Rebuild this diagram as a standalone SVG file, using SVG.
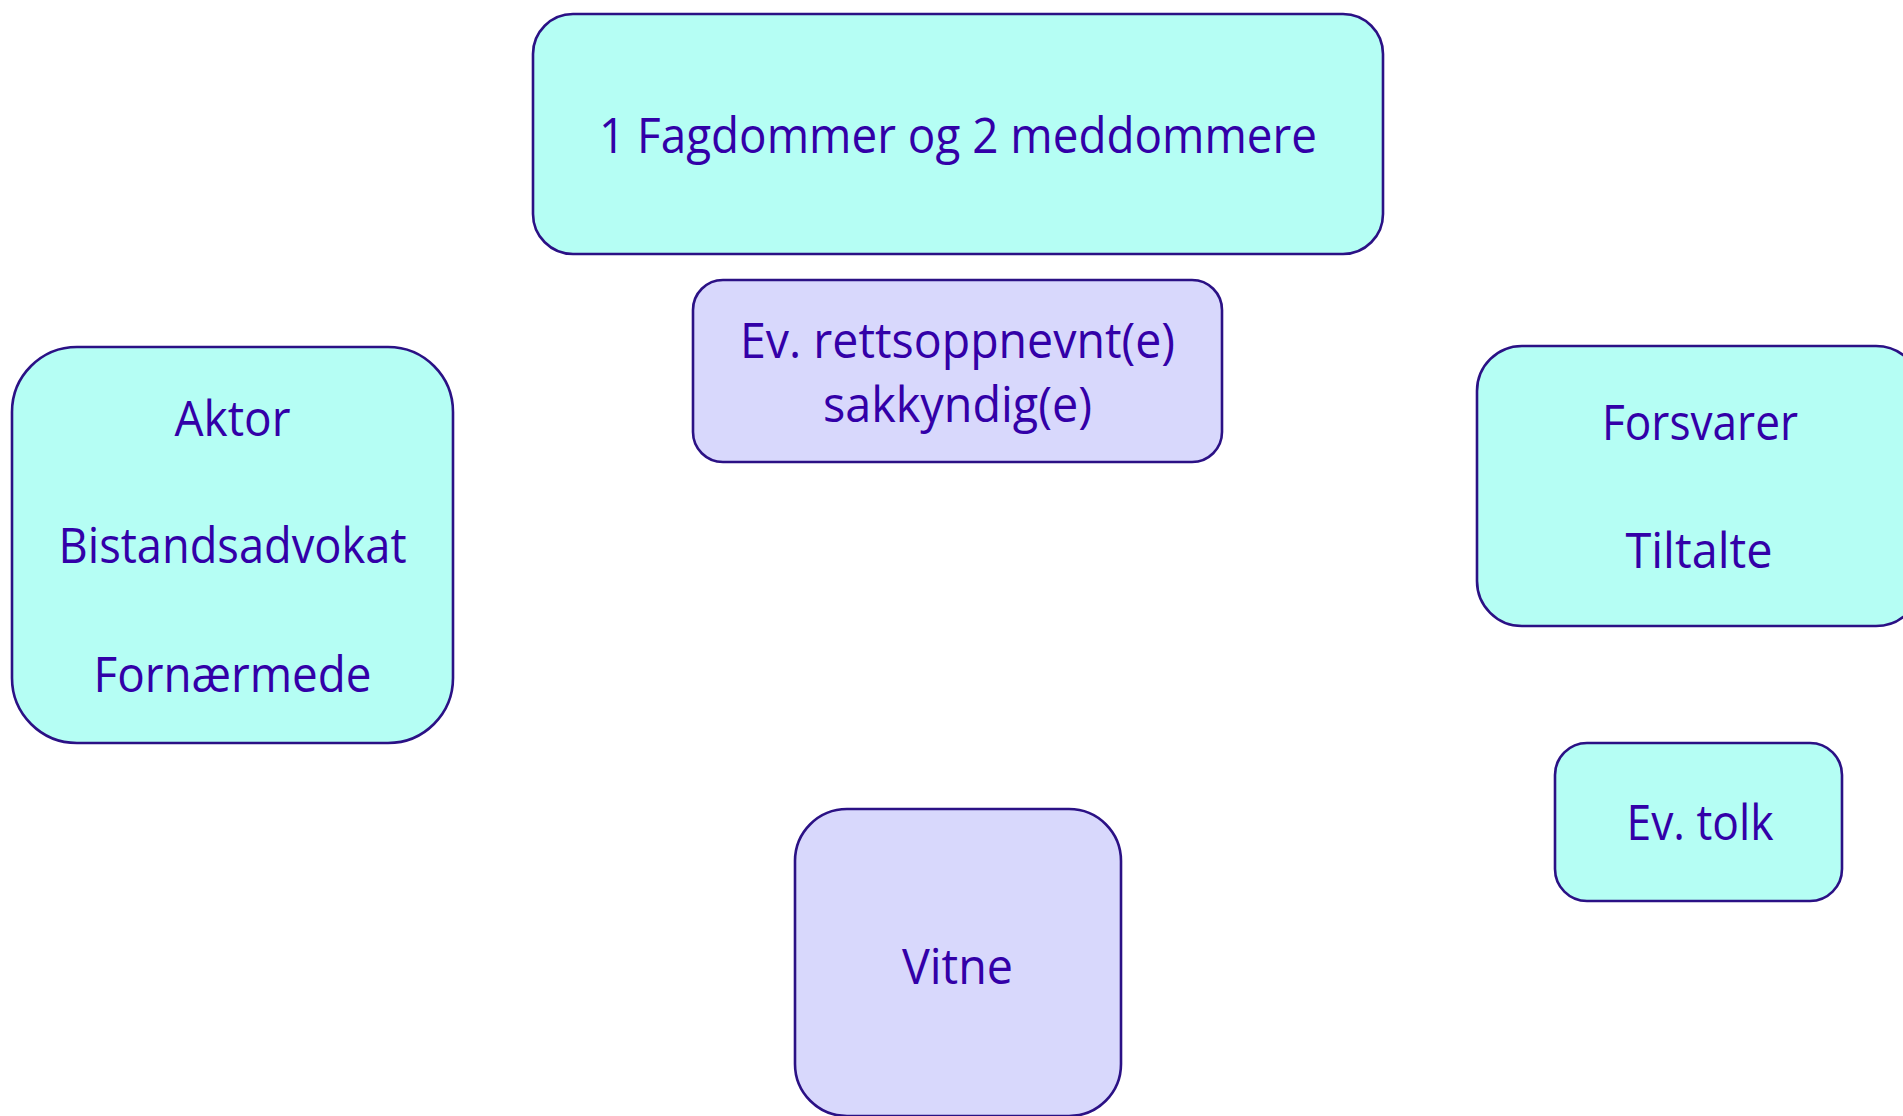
<svg xmlns="http://www.w3.org/2000/svg" width="1903" height="1116" viewBox="0 0 1903 1116">
<defs>
<style>
.box{stroke:#2b1185;stroke-width:2.6}
.cyan{fill:#b5fef4}
.lav{fill:#d8d8fc}
.t{font-family:"Open Sans","Noto Sans","Liberation Sans",sans-serif;font-size:49px;fill:#3300a8;text-anchor:middle}
</style>
</defs>
<rect width="1903" height="1116" fill="#ffffff"/>
<g id="connectors"></g>
<g id="node-dommere">
<rect class="box cyan" x="533" y="14" width="850" height="240" rx="40" ry="40"/>
<text class="t" x="958" y="153" textLength="718" lengthAdjust="spacingAndGlyphs">1 Fagdommer og 2 meddommere</text>
</g>
<g id="node-sakkyndig">
<rect class="box lav" x="693" y="280" width="529" height="182" rx="30" ry="30"/>
<text class="t" x="957.5" y="358" textLength="435" lengthAdjust="spacingAndGlyphs">Ev. rettsoppnevnt(e)</text>
<text class="t" x="957.5" y="422" textLength="269" lengthAdjust="spacingAndGlyphs">sakkyndig(e)</text>
</g>
<g id="node-aktor">
<rect class="box cyan" x="12" y="347" width="441" height="396" rx="65" ry="65"/>
<text class="t" x="232.5" y="436" textLength="116" lengthAdjust="spacingAndGlyphs">Aktor</text>
<text class="t" x="232.5" y="563" textLength="348" lengthAdjust="spacingAndGlyphs">Bistandsadvokat</text>
<text class="t" x="232.5" y="692" textLength="278" lengthAdjust="spacingAndGlyphs">Fornærmede</text>
</g>
<g id="node-forsvarer">
<rect class="box cyan" x="1477" y="346" width="444" height="280" rx="45" ry="45"/>
<text class="t" x="1700" y="440" textLength="196" lengthAdjust="spacingAndGlyphs">Forsvarer</text>
<text class="t" x="1699" y="568" textLength="147" lengthAdjust="spacingAndGlyphs">Tiltalte</text>
</g>
<g id="node-tolk">
<rect class="box cyan" x="1555" y="743" width="287" height="158" rx="32" ry="32"/>
<text class="t" x="1700" y="840" textLength="147" lengthAdjust="spacingAndGlyphs">Ev. tolk</text>
</g>
<g id="node-vitne">
<rect class="box lav" x="795" y="809" width="326" height="307" rx="52" ry="52"/>
<text class="t" x="957.5" y="984" textLength="111" lengthAdjust="spacingAndGlyphs">Vitne</text>
</g>
</svg>
